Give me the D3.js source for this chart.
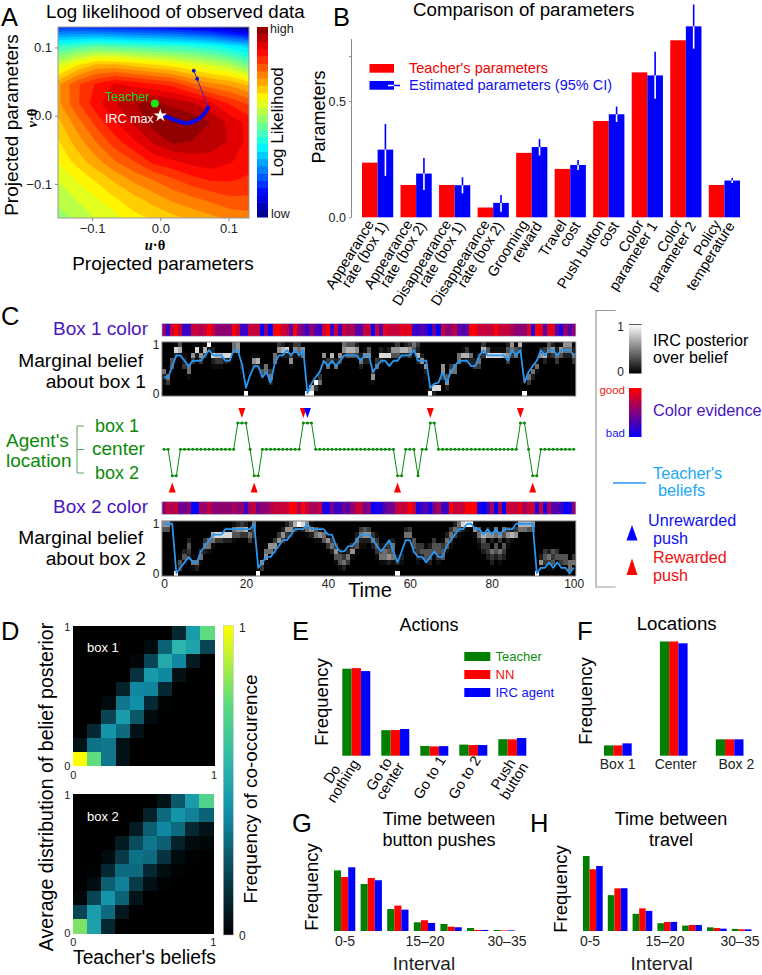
<!DOCTYPE html>
<html>
<head>
<meta charset="utf-8">
<script src="https://cdn.jsdelivr.net/npm/d3@7"></script>
<style>
  html, body { margin: 0; padding: 0; background: #fff; }
  svg { display: block; font-family: "Liberation Sans", Arial, sans-serif; }
  .domain { stroke: #888; }
  .tick line { stroke: #888; }
</style>
</head>
<body>
<div id="chart"></div>
<script>
// ---- panel A: log likelihood surface, sampled on a coarse grid (0 = low, 1 = high)
const likelihoodGrid = [
  [.17,.17,.16,.15,.14,.13,.12,.10,.08,.04,.00],
  [.42,.44,.46,.45,.44,.43,.42,.41,.39,.36,.33],
  [.58,.65,.70,.70,.68,.66,.64,.61,.58,.55,.48],
  [.72,.80,.85,.89,.87,.85,.83,.78,.74,.72,.68],
  [.72,.80,.87,.92,.96,.97,.95,.93,.89,.84,.80],
  [.68,.75,.82,.88,.93,.98,1.0,.99,.96,.91,.87],
  [.65,.71,.77,.83,.88,.93,.97,.96,.94,.92,.87],
  [.62,.67,.72,.77,.81,.86,.88,.90,.91,.89,.86],
  [.58,.62,.66,.70,.74,.77,.80,.83,.85,.85,.84],
  [.55,.58,.61,.65,.68,.71,.74,.76,.78,.80,.80],
  [.52,.55,.58,.60,.64,.66,.68,.70,.72,.74,.75]
]
const pathU = [0, .005, .02, .039, .054, .064, .07]
const pathV = [0, 0, -.006, -.011, -.006, .0025, .012]
const tailU = [.07, .054, .049]
const tailV = [.012, .054, .066]

// ---- panel B
const paramNames = [
  ['Appearance', 'rate (box 1)'], ['Appearance', 'rate (box 2)'], ['Disappearance', 'rate (box 1)'],
  ['Disappearance', 'rate (box 2)'], ['Grooming', 'reward'], ['Travel', 'cost'], ['Push button', 'cost'],
  ['Color', 'parameter 1'], ['Color', 'parameter 2'], ['Policy', 'temperature']
]
const teacherParams = [.235, .139, .139, .042, .277, .208, .414, .623, .761, .139]
const estimatedParams = [.291, .188, .138, .062, .302, .225, .443, .61, .821, .158]
const ciHigh = [.401, .255, .172, .096, .337, .246, .476, .712, .915, .169]
const ciLow = [.178, .117, .103, .024, .266, .203, .41, .51, .725, .148]

// ---- panel C: 0 = blue, 9 = red
const box1Color = [5,2,7,9,7,2,2,7,7,6, 7,9,7,5,5,5,5,9,7,2, 2,7,7,7,0,5,0,9,9,7, 7,3,9,5,4,2,5,3,2,7,
  9,2,7,2,7,6,6,3,3,7, 7,0,7,3,8,7,7,7,8,8, 8,2,2,3,2,0,4,0,7,5, 5,7,3,3,3,9,9,7,7,7, 7,9,7,7,7,6,5,5,5,8,
  1,9,8,3,8,8,3,1,5,3, 5]
const box2Color = [5,7,6,7,4,4,5,0,0,6, 5,7,5,5,5,5,5,6,5,5, 2,6,7,4,5,5,6,7,7,7, 7,9,9,6,9,7,6,6,7,1,
  1,4,2,2,4,3,5,7,7,4, 5,0,1,1,3,4,4,7,7,7, 9,7,1,2,3,1,4,6,2,2, 9,7,7,7,9,9,9,1,0,2, 6,0,6,0,7,7,7,8,6,7,
  7,1,7,1,6,3,3,2,0,1, 5]
const box1Belief = [.33,.33,.55,.78,.78,.67,.56,.67,.67,.67, .78,.89,.78,.78,.78,.67,.67,.89,.89,.6,
  .11,.37,.56,.56,.33,.44,.22,.6,.78,.78, .89,.78,.89,.78,.89,0,.2,.33,.44,.67,
  .56,.67,.56,.67,.78,.78,.78,.78,.67,.78, .78,.44,.56,.67,.67,.56,.67,.67,.78,.78,
  .78,.89,.67,.67,.67,.11,.2,.22,.44,.22, .44,.56,.67,.67,.67,.56,.56,.78,.89,.78,
  .78,.78,.78,.78,.67,.89,.78,.89,.22,.44, .56,.67,.89,.78,.89,.89,.78,.89,.89,.89, .78]
const box2Belief = [1,1,1,0,.11,.22,.33,.22,.22,.44, .55,.67,.78,.78,.78,.89,.89,.89,.89,.89,
  .89,.89,1,.11,.22,.33,.33,.44,.55,.67, .67,.78,.89,.89,.89,1,.89,.89,.89,.89,
  .78,.78,.55,.44,.44,.55,.55,.67,.78,.78, .78,.67,.55,.44,.55,.67,.44,.22,.44,.67,
  .67,.44,.33,.33,.22,.33,.44,.33,.33,.55, .67,.78,.89,.89,1,1,.89,.89,.78,.89,
  .78,.89,.78,.89,.89,.89,1,1,1,1, 1,0,.11,.11,.22,.11,.22,.11,.11,0, .11]
// posterior per time step, one digit per belief level, top (1) to bottom (0)
const box1Posterior = ['0000052100','0000005300','0004410000','1820000000','4710000000','0012300000','0000551000','0063000000','0820000000','0163000000',
  '1730000000','9100000000','0282100000','0073100000','0073100000','0082000000','0081000000','5510000000','6600000000','0000210000',
  '0000000009','0000010000','0016200000','0017100000','0000141000','0000550000','0000035200','0055000000','3610000000','2720000000',
  '0820000000','0036100000','3610000000','3520000000','0650000000','0000000009','0000000079','0000000930','0000003500','0061000000',
  '0003500000','0073000000','0002500000','0063000000','5620000000','4740000000','4740000000','2630000000','0025200000','0162000000',
  '0462000000','0000036100','0003500000','0282000000','0181000000','0281000000','1640000000','3641000000','0720000000','2720000000',
  '3630000000','5410000000','3272000000','0026100000','0001621000','0000000029','0000000082','0000000080','0000663100','0000004620',
  '0000350000','0000550000','0055000000','0171000000','0372000000','0052000000','0002300000','0025300000','3730000000','0480000000',
  '0180000000','0180000000','0180000000','0170000000','2463000000','6530000000','0450000000','7310000000','0000000009','0000005300',
  '0000052000','0001510000','0260000000','0372000000','4520000000','2630000000','0253000000','1640000000','6520000000','6520000000','0253000000']
const box2Posterior = ['6400000000','6400000000','1000000000','0000000009','0000001430','0000024100','0002432000','0000001510','0000000520','0000035100',
  '0003520000','0005510000','0075100000','0083000000','0083000000','0182000000','0182000000','1541000000','2640000000','3630000000',
  '2730000000','0253000000','5430000000','0000000019','0000000630','0000156100','0000650000','0003620000','0036100000','0263000000',
  '2630000000','4620000000','7300000000','9100000000','8200000000','6510000000','1620000000','0451000000','0261000000','0054000000',
  '0016300000','0003520000','0000364100','0000024410','0000003520','0000025300','0000361000','0025400000','0352100000','0462100000',
  '0362000000','0035200000','0013431000','0000145100','0000255100','0000346200','0002545100','0000001209','0000002100','0251000000',
  '0351000000','0004420000','0000332100','0000342000','0000144100','0000244200','0003441000','0000443100','0001344000','0025410000',
  '0353100000','2530000000','5410000000','8200000000','9100000000','9000000000','1610000000','0452100000','0074320000','0260332000',
  '0062053200','0550442000','0063053100','0540432000','0362100000','0271000000','0360000000','7500000000','7500000000','7400000000',
  '6400000000','0000000009','0000002610','0000034300','0000025310','0000043410','0000034100','0000004300','0000004410','0000000552','0000003510']
// 0 = box 2, 1 = center, 2 = box 1
const location_ = [1,1,0,0,1,1,1,1,1,1, 1,1,1,1,1,1,1,1,2,2, 2,1,0,0,1,1,1,1,1,1, 1,1,1,1,2,2,2,1,1,1,
  1,1,1,1,1,1,1,1,1,1, 1,1,1,1,1,1,1,0,0,1, 1,1,0,1,1,2,2,1,1,1, 1,1,1,1,1,1,1,1,1,1, 1,1,1,1,1,1,1,2,2,1,
  0,0,1,1,1,1,1,1,1,1, 1]
const pushBox1Red = [19, 34, 65, 87]
const pushBox1Blue = [35]
const pushBox2Red = [2, 22, 57, 90]

// ---- panel D: co-occurrence, top row first
const coBox1 = [
  [0,0,0,0,0,0,0,.12,.45,.75],
  [0,0,0,0,0,.03,.28,.55,.48,.2],
  [0,0,0,0,.02,.2,.5,.38,.08,0],
  [0,0,0,0,.15,.44,.38,.05,0,0],
  [0,0,0,.1,.38,.37,.12,0,0,0],
  [0,0,.03,.33,.4,.12,.01,0,0,0],
  [0,0,.2,.45,.25,.03,0,0,0,0],
  [0,.12,.42,.3,.05,0,0,0,0,0],
  [.06,.32,.33,.05,0,0,0,0,0,0],
  [1,.75,.33,.05,0,0,0,0,0,0]
]
const coBox2 = [
  [0,0,0,0,0,0,.06,.25,.45,.7],
  [0,0,0,0,0,.1,.3,.42,.36,.28],
  [0,0,0,0,.08,.27,.38,.3,.12,.06],
  [0,0,0,.08,.22,.33,.27,.1,.03,.02],
  [0,0,.03,.17,.32,.3,.15,.03,.01,0],
  [0,.01,.12,.3,.3,.12,.04,.01,0,0],
  [0,.04,.27,.36,.17,.05,.01,0,0,0],
  [.02,.2,.42,.28,.06,0,0,0,0,0],
  [.2,.45,.3,.07,0,0,0,0,0,0],
  [.8,.47,.12,0,0,0,0,0,0,0]
]

// ---- panels E-H
const actionNames = [['Do', 'nothing'], ['Go to', 'center'], ['Go to 1'], ['Go to 2'], ['Push', 'button']]
const actionTeacher = [.58, .17, .065, .074, .11]
const actionNN = [.584, .171, .062, .071, .109]
const actionIRC = [.564, .178, .064, .071, .118]
const locationNames = ['Box 1', 'Center', 'Box 2']
const locationTeacher = [.073, .81, .116]
const locationNN = [.073, .81, .116]
const locationIRC = [.0875, .797, .116]
const intervalTeacherG = [.406, .315, .147, .058, .047, .02, .007]
const intervalNNG = [.362, .355, .17, .072, .029, .007, .004]
const intervalIRCG = [.427, .34, .143, .054, .025, .007, .004]
const intervalTeacherH = [.51, .244, .117, .053, .037, .025, .014]
const intervalNNH = [.42, .29, .154, .061, .041, .02, .011]
const intervalIRCH = [.442, .291, .137, .062, .041, .016, .011]
const intervalTicks = ['0-5', '15–20', '30–35']

const svg = d3.select('#chart').append('svg').attr('width', 762).attr('height', 975)

function label(txt, x, y, size, fill, opts) {
  opts = opts || {}
  const t = svg.append('text').text(txt)
    .attr('font-size', size).attr('fill', fill || '#000')
    .attr('text-anchor', opts.anchor || 'start')
  if (opts.rotate !== undefined) t.attr('transform', `translate(${x},${y}) rotate(${opts.rotate})`)
  else t.attr('x', x).attr('y', y)
  return t
}

// panel letters
const letters = [['A',1,26],['B',333,26],['C',1,325],['D',1,640],['E',292,640],['F',577,640],['G',292,832],['H',530,832]]
letters.forEach(d => label(d[0], d[1], d[2], 25.5))

// ============ A ============
function jet(v) {
  const c = x => Math.max(0, Math.min(1, x))
  const r = c(Math.min(4 * v - 1.5, -4 * v + 4.5))
  const g = c(Math.min(4 * v - 0.5, -4 * v + 3.5))
  const b = c(Math.min(4 * v + 0.5, -4 * v + 2.5))
  return d3.rgb(r * 255, g * 255, b * 255).formatHex()
}
const xA = d3.scaleLinear().domain([-.15, .13]).range([58, 249])
const yA = d3.scaleLinear().domain([-.15, .13]).range([218, 27])
const gridW = likelihoodGrid[0].length, gridH = likelihoodGrid.length
const levels = d3.range(0, 1, 1 / 26)
const contours = d3.contours().size([gridW, gridH]).thresholds(levels)(likelihoodGrid.flat())
const gxA = d3.scaleLinear().domain([.5, gridW - .5]).range([58, 249])
const gyA = d3.scaleLinear().domain([.5, gridH - .5]).range([27, 218])
const proj = d3.geoTransform({ point(x, y) { this.stream.point(gxA(x), gyA(y)) } })
svg.append('clipPath').attr('id', 'clipA').append('rect').attr('x', 58).attr('y', 27).attr('width', 191).attr('height', 191)
svg.append('g').attr('clip-path', 'url(#clipA)')
  .selectAll('path').data(contours).enter().append('path')
  .attr('d', d3.geoPath(proj))
  .attr('fill', d => jet(d.value + .5 / 26))
  .attr('stroke', d => jet(d.value + .5 / 26)).attr('stroke-width', .3)
svg.append('rect').attr('x', 58).attr('y', 27).attr('width', 191).attr('height', 191).attr('fill', 'none').attr('stroke', '#999')
const axAx = svg.append('g').attr('transform', 'translate(0,218)').call(d3.axisBottom(xA).tickValues([-.1, 0, .1]).tickSize(3).tickFormat(d => d3.format('.1f')(d).replace('-', '−')))
const axAy = svg.append('g').attr('transform', 'translate(58,0)').call(d3.axisLeft(yA).tickValues([-.1, 0, .1]).tickSize(3).tickFormat(d => d3.format('.1f')(d).replace('-', '−')))
axAx.selectAll('text').attr('font-size', 13).attr('fill', '#222')
axAy.selectAll('text').attr('font-size', 13).attr('fill', '#222')
svg.selectAll('.domain').remove()

svg.append('path').attr('d', d3.line().x((d, i) => xA(tailU[i])).y((d, i) => yA(tailV[i]))(tailU))
  .attr('fill', 'none').attr('stroke', '#3030c0').attr('stroke-width', 1)
svg.append('path').attr('d', d3.line().x((d, i) => xA(pathU[i])).y((d, i) => yA(pathV[i])).curve(d3.curveCatmullRom)(pathU))
  .attr('fill', 'none').attr('stroke', '#0a0ae6').attr('stroke-width', 4).attr('stroke-linecap', 'round')
svg.selectAll('.tailDot').data(tailU.slice(1)).enter().append('circle').attr('class', 'tailDot')
  .attr('cx', d => xA(d)).attr('cy', (d, i) => yA(tailV[i + 1])).attr('r', 1.9).attr('fill', '#0a0ae6')
svg.append('circle').attr('cx', xA(-.008)).attr('cy', yA(.018)).attr('r', 4).attr('fill', '#16e616')
svg.append('path').attr('d', d3.symbol(d3.symbolStar, 55)()).attr('transform', `translate(${xA(0)},${yA(0)})`).attr('fill', '#fff')
label('Teacher', 105, 101, 12.5, '#20d020')
label('IRC max', 105, 123, 12.5, '#fff')
label('Log likelihood of observed data', 46, 18, 18.7)
label('Projected parameters', 18, 125, 19, '#000', { anchor: 'middle', rotate: -90 })
label('Projected parameters', 163, 270, 19, '#000', { anchor: 'middle' })
const serifBold = 'font-family:"Liberation Serif";font-weight:bold;'
function uvLabel(sel, letter) {
  sel.attr('style', serifBold).text('')
  sel.append('tspan').attr('font-style', 'italic').text(letter)
  sel.append('tspan').text('·θ')
}
uvLabel(label('', 155, 250, 14.5, '#000', { anchor: 'middle' }), 'u')
uvLabel(label('', 37, 118, 14.5, '#000', { anchor: 'middle', rotate: -90 }), 'v')

// colorbar
const yCbA = d3.scaleLinear().domain([0, 1]).range([217, 27])
svg.selectAll('.cbA').data(levels).enter().append('rect').attr('class', 'cbA')
  .attr('x', 257).attr('width', 11)
  .attr('y', d => yCbA(d + 1 / 26)).attr('height', yCbA(0) - yCbA(1 / 26) + .5)
  .attr('fill', d => jet(d + .5 / 26))
label('high', 270, 33, 12.5, '#222')
label('low', 271, 218, 12.5, '#222')
label('Log Likelihood', 283, 122, 17, '#000', { anchor: 'middle', rotate: -90 })

// ============ B ============
const yB = d3.scaleLinear().domain([0, .5]).range([217.3, 101])
const xB = d3.scaleBand().domain(d3.range(paramNames.length)).range([362, 740]).paddingInner(.19)
const bw = xB.bandwidth() / 2
svg.selectAll('.redB').data(teacherParams).enter().append('rect').attr('class', 'redB')
  .attr('x', (d, i) => xB(i)).attr('width', bw).attr('y', d => yB(d)).attr('height', d => yB(0) - yB(d)).attr('fill', '#ff0000')
svg.selectAll('.blueB').data(estimatedParams).enter().append('rect').attr('class', 'blueB')
  .attr('x', (d, i) => xB(i) + bw).attr('width', bw).attr('y', d => yB(d)).attr('height', d => yB(0) - yB(d)).attr('fill', '#0000ff')
svg.selectAll('.ciUp').data(ciHigh).enter().append('line').attr('class', 'ciUp')
  .attr('x1', (d, i) => xB(i) + 1.5 * bw).attr('x2', (d, i) => xB(i) + 1.5 * bw)
  .attr('y1', d => yB(d)).attr('y2', (d, i) => yB(estimatedParams[i])).attr('stroke', '#0000ff').attr('stroke-width', 1.6)
svg.selectAll('.ciDown').data(ciLow).enter().append('line').attr('class', 'ciDown')
  .attr('x1', (d, i) => xB(i) + 1.5 * bw).attr('x2', (d, i) => xB(i) + 1.5 * bw)
  .attr('y1', d => yB(d)).attr('y2', (d, i) => yB(estimatedParams[i])).attr('stroke', '#fff').attr('stroke-width', 1.6)
// axis with an unlabelled tick above 0.5
const axB = svg.append('g').attr('transform', 'translate(351.5,0)')
  .call(d3.axisLeft(yB).tickValues([0, .5, .693]).tickSize(2.5).tickFormat(d => d === .693 ? '' : d3.format('.1f')(d)))
axB.selectAll('text').attr('font-size', 12.5).attr('fill', '#222')
axB.select('.domain').attr('d', 'M0,39H0V217.3')
paramNames.forEach((lines, i) => {
  const c = xB(i) + xB.bandwidth() / 2
  const g = svg.append('g').attr('transform', `translate(${c - 3},224) rotate(-58)`)
    .attr('font-size', 14.5).attr('text-anchor', 'end')
  g.append('text').text(lines[0])
  g.append('text').text(lines[1]).attr('x', 6).attr('y', 12.5)
})
label('Comparison of parameters', 413, 16, 18.7)
label('Parameters', 325, 117, 18, '#000', { anchor: 'middle', rotate: -90 })
svg.append('rect').attr('x', 369.5).attr('y', 64).attr('width', 24.5).attr('height', 8.7).attr('fill', '#ff0000')
svg.append('rect').attr('x', 369.5).attr('y', 81).attr('width', 24.5).attr('height', 8.7).attr('fill', '#0000ff')
svg.append('line').attr('x1', 388).attr('x2', 394).attr('y1', 85.5).attr('y2', 85.5).attr('stroke', '#fff').attr('stroke-width', 1.5)
svg.append('line').attr('x1', 394).attr('x2', 400).attr('y1', 85.5).attr('y2', 85.5).attr('stroke', '#0000ff').attr('stroke-width', 1.5)
label("Teacher's parameters", 409, 73, 14.5, '#f00000')
label('Estimated parameters (95% CI)', 409, 90, 14.5, '#1010f0')

// ============ C ============
const purple = '#4a14be', green = '#0a8a0a'
const xC = d3.scaleLinear().domain([-.5, 100.5]).range([162, 575.7])
const colorEv = d3.scaleLinear().domain([0, 9]).range(['#0000ff', '#ff0000'])
const grayCell = d3.scalePow().exponent(1.4).domain([0, 9]).range(['#000000', '#ffffff'])

function stripRow(values, top, h) {
  svg.append('g').attr('shape-rendering', 'crispEdges').selectAll('rect').data(values).enter().append('rect')
    .attr('x', (d, i) => xC(i - .5)).attr('width', xC(1) - xC(0) + .5)
    .attr('y', top).attr('height', h).attr('fill', d => colorEv(d))
  svg.append('rect').attr('x', 162).attr('y', top).attr('width', 413.7).attr('height', h)
    .attr('fill', 'none').attr('stroke', '#a898c8').attr('stroke-width', .7)
}
function heatRow(posterior, belief, top, bottom) {
  const yRow = d3.scaleBand().domain(d3.range(10)).range([top, bottom])
  const yBel = d3.scaleLinear().domain([0, 1]).range([yRow(9) + yRow.bandwidth() / 2, yRow(0) + yRow.bandwidth() / 2])
  svg.append('rect').attr('x', 162).attr('y', top).attr('width', 413.7).attr('height', bottom - top).attr('fill', '#000')
  const cells = []
  posterior.forEach((s, t) => s.split('').forEach((c, r) => { if (+c > 0) cells.push({ t, r, v: +c }) }))
  svg.append('g').attr('shape-rendering', 'crispEdges').selectAll('rect').data(cells).enter().append('rect')
    .attr('x', d => xC(d.t - .5)).attr('width', xC(1) - xC(0))
    .attr('y', d => yRow(d.r)).attr('height', yRow.bandwidth())
    .attr('fill', d => grayCell(d.v))
  svg.append('rect').attr('x', 162).attr('y', top).attr('width', 413.7).attr('height', bottom - top)
    .attr('fill', 'none').attr('stroke', '#777').attr('stroke-width', 1)
  svg.append('path').attr('d', d3.line().x((d, i) => xC(i)).y(d => yBel(d))(belief))
    .attr('fill', 'none').attr('stroke', '#2a96f0').attr('stroke-width', 1.8).attr('stroke-linejoin', 'round')
  const ax = svg.append('g').attr('transform', 'translate(162,0)')
    .call(d3.axisLeft(yBel).tickValues([0, 1]).tickSize(0).tickPadding(2.5).tickFormat(d3.format('d')))
  ax.select('.domain').remove()
  ax.selectAll('text').attr('font-size', 12).attr('fill', '#222')
}
stripRow(box1Color, 323.5, 12.7)
heatRow(box1Posterior, box1Belief, 342, 396)
stripRow(box2Color, 501.7, 12.7)
heatRow(box2Posterior, box2Belief, 521, 576)
const axC = svg.append('g').attr('transform', 'translate(0,576)')
  .call(d3.axisBottom(xC).tickValues(d3.range(0, 101, 20)).tickSize(0).tickPadding(3.5))
axC.select('.domain').remove()
axC.selectAll('text').attr('font-size', 12).attr('fill', '#222')

label('Box 1 color', 148, 335, 19, purple, { anchor: 'end' })
label('Box 2 color', 148, 513, 19, purple, { anchor: 'end' })
label('Marginal belief', 143, 367, 19.2, '#000', { anchor: 'end' })
label('about box 1', 146, 388, 19.2, '#000', { anchor: 'end' })
label('Marginal belief', 143, 544, 19.2, '#000', { anchor: 'end' })
label('about box 2', 146, 565, 19.2, '#000', { anchor: 'end' })
label('Time', 370, 597, 20, '#000', { anchor: 'middle' })

// agent location
const yLoc = d3.scaleLinear().domain([0, 2]).range([475.7, 423])
svg.append('path').attr('d', d3.line().x((d, i) => xC(i)).y(d => yLoc(d))(location_))
  .attr('fill', 'none').attr('stroke', green).attr('stroke-width', 1)
svg.append('g').selectAll('circle').data(location_).enter().append('circle')
  .attr('cx', (d, i) => xC(i)).attr('cy', d => yLoc(d)).attr('r', 1.5).attr('fill', green)
function tri(t, y, dir, fill) {
  const p = dir > 0 ? 'M-3.5,-5L3.5,-5L0,5Z' : 'M-3.5,5L3.5,5L0,-5Z'
  svg.append('path').attr('d', p).attr('transform', `translate(${xC(t)},${y})`).attr('fill', fill)
}
pushBox1Red.forEach(t => tri(t, 413, 1, '#ff0000'))
pushBox1Blue.forEach(t => tri(t, 413, 1, '#0000ff'))
pushBox2Red.forEach(t => tri(t, 487.5, -1, '#ff0000'))

label("Agent's", 6, 447, 19, green)
label('location', 6, 467, 19, green)
label('box 1', 95, 432, 18, green)
label('center', 92, 455, 19, green)
label('box 2', 95, 479, 18, green)
svg.append('path').attr('d', 'M84,426H77V473H84M77,449.5H84').attr('fill', 'none').attr('stroke', '#5aa05a').attr('stroke-width', 1)

// legend of C
svg.append('path').attr('d', 'M615.5,310.5H596V587H615.5').attr('fill', 'none').attr('stroke', '#999').attr('stroke-width', 1.2)
const defs = svg.append('defs')
const g1 = defs.append('linearGradient').attr('id', 'grayBar').attr('x1', 0).attr('x2', 0).attr('y1', 0).attr('y2', 1)
g1.append('stop').attr('offset', 0).attr('stop-color', '#fff')
g1.append('stop').attr('offset', 1).attr('stop-color', '#000')
const g2 = defs.append('linearGradient').attr('id', 'colorBar').attr('x1', 0).attr('x2', 0).attr('y1', 0).attr('y2', 1)
g2.append('stop').attr('offset', 0).attr('stop-color', '#ff0000')
g2.append('stop').attr('offset', 1).attr('stop-color', '#0000ff')
svg.append('rect').attr('x', 629).attr('y', 324.5).attr('width', 12.5).attr('height', 49).attr('fill', 'url(#grayBar)')
svg.append('line').attr('x1', 629).attr('x2', 641.5).attr('y1', 324.5).attr('y2', 324.5).attr('stroke', '#555')
svg.append('rect').attr('x', 629).attr('y', 388).attr('width', 12.5).attr('height', 49).attr('fill', 'url(#colorBar)')
label('1', 624, 331, 12, '#222', { anchor: 'end' })
label('0', 624, 376, 12, '#222', { anchor: 'end' })
label('good', 625, 394, 11.5, '#f02020', { anchor: 'end' })
label('bad', 625, 437, 11.5, '#2020f0', { anchor: 'end' })
label('IRC posterior', 653, 346, 16.2)
label('over belief', 653, 363, 16.2)
label('Color evidence', 653, 416, 16.3, purple)
svg.append('line').attr('x1', 613).attr('x2', 646).attr('y1', 483).attr('y2', 483).attr('stroke', '#2a96f0').attr('stroke-width', 1.6)
label("Teacher's", 653, 479, 16.3, '#20a8f8')
label('beliefs', 658, 496, 16.3, '#20a8f8')
svg.append('path').attr('d', 'M632,525L637.5,540.5H626.5Z').attr('fill', '#0000ff')
svg.append('path').attr('d', 'M632,558.5L637.5,575H626.5Z').attr('fill', '#ff0000')
label('Unrewarded', 648, 526, 16.2, '#1010f0')
label('push', 653, 544, 16.2, '#1010f0')
label('Rewarded', 653, 563, 16.2, '#f01010')
label('push', 653, 581, 16.2, '#f01010')

// ============ D ============
const coColor = d3.scaleLinear().domain([0, .15, .4, .55, .75, 1])
  .range(['#000000', '#07323f', '#1290a9', '#2bb5ac', '#5ddc80', '#ffff00'])
function coMatrix(matrix, x0, x1, y0, y1, name, nameY) {
  const x = d3.scaleBand().domain(d3.range(10)).range([x0, x1])
  const y = d3.scaleBand().domain(d3.range(10)).range([y0, y1])
  svg.append('g').attr('shape-rendering', 'crispEdges').selectAll('g').data(matrix).enter().append('g')
    .attr('transform', (d, i) => `translate(0,${y(i)})`)
    .selectAll('rect').data(d => d).enter().append('rect')
    .attr('x', (d, i) => x(i)).attr('width', x.bandwidth() + .5).attr('height', y.bandwidth() + .5)
    .attr('fill', d => coColor(d))
  label(name, 87, nameY, 13, '#fff')
  label('1', x0 - 3, y0 + 5, 11, '#222', { anchor: 'end' })
  label('0', x0 - 3, y1 + 4, 11, '#222', { anchor: 'end' })
  label('0', x0, y1 + 13, 11, '#222', { anchor: 'middle' })
  label('1', x1, y1 + 13, 11, '#222', { anchor: 'middle' })
}
coMatrix(coBox1, 73.3, 214, 625.7, 766, 'box 1', 652)
coMatrix(coBox2, 73.3, 213.3, 793.7, 933.3, 'box 2', 821)
const g3 = defs.append('linearGradient').attr('id', 'coBar').attr('x1', 0).attr('x2', 0).attr('y1', 1).attr('y2', 0)
coColor.domain().forEach(v => g3.append('stop').attr('offset', v).attr('stop-color', coColor(v)))
svg.append('rect').attr('x', 223.3).attr('y', 625.7).attr('width', 10).attr('height', 309.3).attr('fill', 'url(#coBar)')
  .attr('stroke', '#bbb').attr('stroke-width', .5)
label('1', 239, 632, 12, '#222')
label('0', 239, 940, 12, '#222')
label('Frequency of co-occurence', 257, 789, 18.9, '#000', { anchor: 'middle', rotate: -90 })
label('Average distribution of  belief posterior', 53, 787, 19.6, '#000', { anchor: 'middle', rotate: -90 })
label("Teacher's beliefs", 73, 964, 19.3)

// ============ E-H grouped bars ============
const triColors = ['#007f00', '#ff0000', '#0000ff']
function groupBars(series, x0, step, groupW, baseline, pxPerUnit) {
  const y = d3.scaleLinear().domain([0, 1]).range([baseline, baseline - pxPerUnit])
  const x = d3.scaleLinear().domain([0, series[0].length]).range([x0, x0 + step * series[0].length])
  const w = groupW / series.length
  series.forEach((vals, s) => {
    svg.append('g').selectAll('rect').data(vals).enter().append('rect')
      .attr('x', (d, i) => x(i) + s * w).attr('width', w)
      .attr('y', d => y(d)).attr('height', d => y(0) - y(d)).attr('fill', triColors[s])
  })
  return x
}
// E
const xE = groupBars([actionTeacher, actionNN, actionIRC], 342.3, 39, 28, 755.7, 150)
const shiftE = [-18, -10, -4, -8, -3]
actionNames.forEach((lines, i) => {
  const g = svg.append('g').attr('transform', `translate(${xE(i) + 14 + shiftE[i]},778) rotate(-58)`)
    .attr('font-size', 14.5).attr('text-anchor', 'middle')
  lines.forEach((s, j) => g.append('text').text(s).attr('y', (j - (lines.length - 1) / 2) * 13 + 4))
})
label('Actions', 429, 631, 18, '#000', { anchor: 'middle' })
label('Frequency', 328, 702, 18.5, '#000', { anchor: 'middle', rotate: -90 })
const legendE = ['Teacher', 'NN', 'IRC agent']
const legendEText = ['#109010', '#f01010', '#1010f0']
const legendERow = d3.scalePoint().domain(d3.range(3)).range([652, 688])
legendE.forEach((s, i) => {
  svg.append('rect').attr('x', 464.3).attr('y', legendERow(i)).attr('width', 26).attr('height', 9).attr('fill', triColors[i])
  label(s, 495.5, legendERow(i) + 9, 13, legendEText[i])
})
// F
groupBars([locationTeacher, locationNN, locationIRC], 604, 55.9, 27.7, 755.7, 141)
const xLabelF = [617.7, 675.7, 736.3]
locationNames.forEach((s, i) => label(s, xLabelF[i], 769, 14, '#222', { anchor: 'middle' }))
label('Locations', 676.7, 630, 18.7, '#000', { anchor: 'middle' })
label('Frequency', 591.5, 701, 18.5, '#000', { anchor: 'middle', rotate: -90 })
// G
groupBars([intervalTeacherG, intervalNNG, intervalIRCG], 334, 26.6, 21.3, 931, 149.3)
const xTickG = [345, 425, 507]
intervalTicks.forEach((s, i) => label(s, xTickG[i], 946, 14, '#222', { anchor: 'middle' }))
label('Interval', 424, 970, 19, '#222', { anchor: 'middle' })
label('Frequency', 318, 887, 18.5, '#000', { anchor: 'middle', rotate: -90 })
label('Time between', 439, 825, 18, '#000', { anchor: 'middle' })
label('button pushes', 439, 846, 18, '#000', { anchor: 'middle' })
// H
groupBars([intervalTeacherH, intervalNNH, intervalIRCH], 583, 24.8, 19.7, 931, 147)
const xTickH = [590, 665, 740]
intervalTicks.forEach((s, i) => label(s, xTickH[i], 946, 14, '#222', { anchor: 'middle' }))
label('Interval', 661.7, 970, 19, '#222', { anchor: 'middle' })
label('Frequency', 566.5, 889, 18.5, '#000', { anchor: 'middle', rotate: -90 })
label('Time between', 671, 825, 18, '#000', { anchor: 'middle' })
label('travel', 671, 846, 18, '#000', { anchor: 'middle' })
</script>
</body>
</html>
